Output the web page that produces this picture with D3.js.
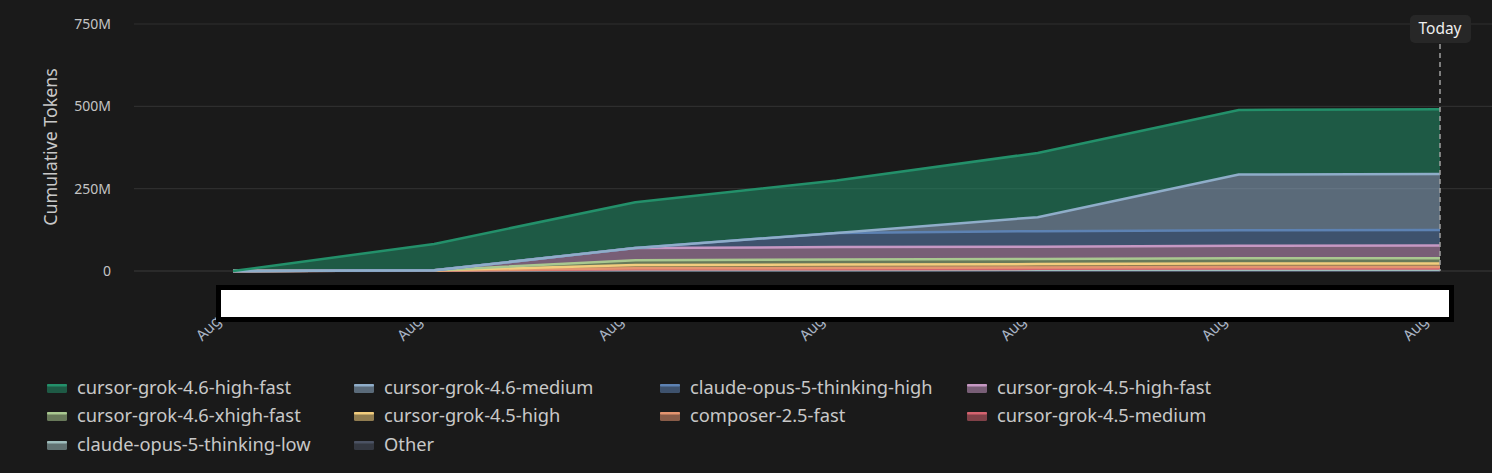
<!DOCTYPE html>
<html>
<head>
<meta charset="utf-8">
<script src="https://cdn.jsdelivr.net/npm/d3@7/dist/d3.min.js"></script>
<style>
  html, body { margin: 0; padding: 0; background: #1a1a1a; }
  svg { display: block; }
  text { font-family: "Noto Sans", "Open Sans", sans-serif; }
</style>
</head>
<body>
<svg id="chart" width="1492" height="473"></svg>
<script>
// ---------- data (cumulative tokens, millions) ----------
const dates = ["2025-08-10", "2025-08-11", "2025-08-12", "2025-08-13", "2025-08-14", "2025-08-15", "2025-08-16"];
const xTickLabels = ["Aug 10", "Aug 11", "Aug 12", "Aug 13", "Aug 14", "Aug 15", "Aug 16"];
const yTicks = [0, 250, 500, 750];
const yTickLabels = ["0", "250M", "500M", "750M"];

// legend order (top of stack first)
const seriesNames = [
  "cursor-grok-4.6-high-fast",
  "cursor-grok-4.6-medium",
  "claude-opus-5-thinking-high",
  "cursor-grok-4.5-high-fast",
  "cursor-grok-4.6-xhigh-fast",
  "cursor-grok-4.5-high",
  "composer-2.5-fast",
  "cursor-grok-4.5-medium",
  "claude-opus-5-thinking-low",
  "Other"
];
const grok46HighFast   = [0, 80, 139, 159.5, 195, 196, 197];
const grok46Medium     = [0, 0, 0, 0, 42.5, 169, 170];
const opus5High        = [0, 0, 0, 43, 47, 47.5, 47];
const grok45HighFast   = [0, 0, 37, 37.5, 37.5, 38, 38.5];
const grok46XhighFast  = [0, 0, 15, 15.5, 15.5, 16, 16];
const grok45High       = [0, 0.5, 10, 10.5, 10.5, 10.5, 11];
const composer25Fast   = [0, 0, 3, 3.5, 4, 4.5, 4.5];
const grok45Medium     = [0, 0, 2, 2.5, 3, 3.5, 3.5];
const opus5Low         = [0, 0.5, 2, 2, 2.5, 3, 3];
const other            = [0, 1, 1, 1, 1, 1, 1];
const seriesValues = [grok46HighFast, grok46Medium, opus5High, grok45HighFast, grok46XhighFast,
  grok45High, composer25Fast, grok45Medium, opus5Low, other];
const seriesColors = ["#23906a", "#8fadc9", "#5d82b3", "#c698c3", "#a9c890",
  "#f2cd7e", "#e3946f", "#d5636f", "#9dbcbb", "#4b5263"];
const todayDate = "2025-08-16";

// ---------- build ----------
const parse = d3.timeParse("%Y-%m-%d");
const rows = dates.map((d, i) => {
  const r = { date: parse(d) };
  seriesNames.forEach((n, k) => r[n] = seriesValues[k][i] * 1e6);
  return r;
});

const svg = d3.select("#chart");
svg.append("rect").attr("width", 1492).attr("height", 473).attr("fill", "#1a1a1a");

const plot = { left: 134, right: 1492, top: 24, bottom: 271 };
const x = d3.scaleTime().domain(d3.extent(rows, r => r.date)).range([233, 1440]);
const y = d3.scaleLinear().domain([0, 750e6]).range([plot.bottom, plot.top]);

// grid
svg.append("g").selectAll("line").data(yTicks).join("line")
  .attr("x1", plot.left).attr("x2", plot.right)
  .attr("y1", d => y(d * 1e6)).attr("y2", d => y(d * 1e6))
  .attr("stroke", d => d === 0 ? "#3a3a3a" : "#2e2e2e").attr("stroke-width", 1.2);

// y labels
svg.append("g").selectAll("text").data(yTicks).join("text")
  .attr("x", 111).attr("y", d => y(d * 1e6)).attr("dy", "0.35em")
  .attr("text-anchor", "end").attr("fill", "#c4c4c4").attr("font-size", 14)
  .text((d, i) => yTickLabels[i]);

svg.append("text")
  .attr("transform", "translate(57,147) rotate(-90)")
  .attr("text-anchor", "middle").attr("fill", "#c8c8c8").attr("font-size", 17.8)
  .text("Cumulative Tokens");

// stack: bottom = last legend entry
const stackKeys = seriesNames.slice().reverse();
const stack = d3.stack().keys(stackKeys)(rows);
const colorOf = n => seriesColors[seriesNames.indexOf(n)];

const area = d3.area().x(d => x(d.data.date)).y0(d => y(d[0])).y1(d => y(d[1]));
const line = d3.line().x(d => x(d.data.date)).y(d => y(d[1]));

const gAreas = svg.append("g");
stack.forEach(layer => {
  gAreas.append("path").attr("d", area(layer))
    .attr("fill", colorOf(layer.key)).attr("fill-opacity", 0.55);
});
stack.forEach(layer => {
  gAreas.append("path").attr("d", line(layer))
    .attr("fill", "none").attr("stroke", colorOf(layer.key)).attr("stroke-width", 2.5)
    .attr("stroke-linejoin", "round");
});

// Today marker
const tx = x(parse(todayDate));
svg.append("line").attr("x1", tx).attr("x2", tx).attr("y1", 44).attr("y2", plot.bottom)
  .attr("stroke", "#a0a0a0").attr("stroke-width", 1.5).attr("stroke-dasharray", "5,4");
svg.append("rect").attr("x", tx - 30).attr("y", 15).attr("width", 61).attr("height", 28)
  .attr("rx", 5).attr("fill", "#272727");
svg.append("text").attr("x", tx).attr("y", 29).attr("dy", "0.35em")
  .attr("text-anchor", "middle").attr("fill", "#eeeeee").attr("font-size", 15.5).text("Today");

// x labels
svg.append("g").selectAll("text").data(rows).join("text")
  .attr("transform", d => `translate(${x(d.date) + 4},${307}) rotate(-45)`)
  .attr("text-anchor", "end").attr("fill", "#a9b4c4").attr("font-size", 15)
  .text((d, i) => xTickLabels[i]);

// redaction box over x labels
svg.append("rect").attr("x", 218.5).attr("y", 287.5).attr("width", 1233).attr("height", 32)
  .attr("fill", "#ffffff").attr("stroke", "#000000").attr("stroke-width", 5);

// legend
const legendCols = [47, 354, 660, 967];
const legendRows = [388, 416, 445];
const lg = svg.append("g");
seriesNames.forEach((n, i) => {
  const cx = legendCols[i % 4], cy = legendRows[Math.floor(i / 4)];
  const c = colorOf(n);
  lg.append("rect").attr("x", cx).attr("y", cy - 4).attr("width", 20).attr("height", 9)
    .attr("rx", 1.5).attr("fill", c).attr("fill-opacity", 0.55);
  lg.append("rect").attr("x", cx).attr("y", cy - 4).attr("width", 20).attr("height", 2.5)
    .attr("rx", 1).attr("fill", c);
  lg.append("text").attr("x", cx + 30).attr("y", cy).attr("dy", "0.35em")
    .attr("fill", "#c8c8c8").attr("font-size", 18.3).text(n);
});
</script>
</body>
</html>
